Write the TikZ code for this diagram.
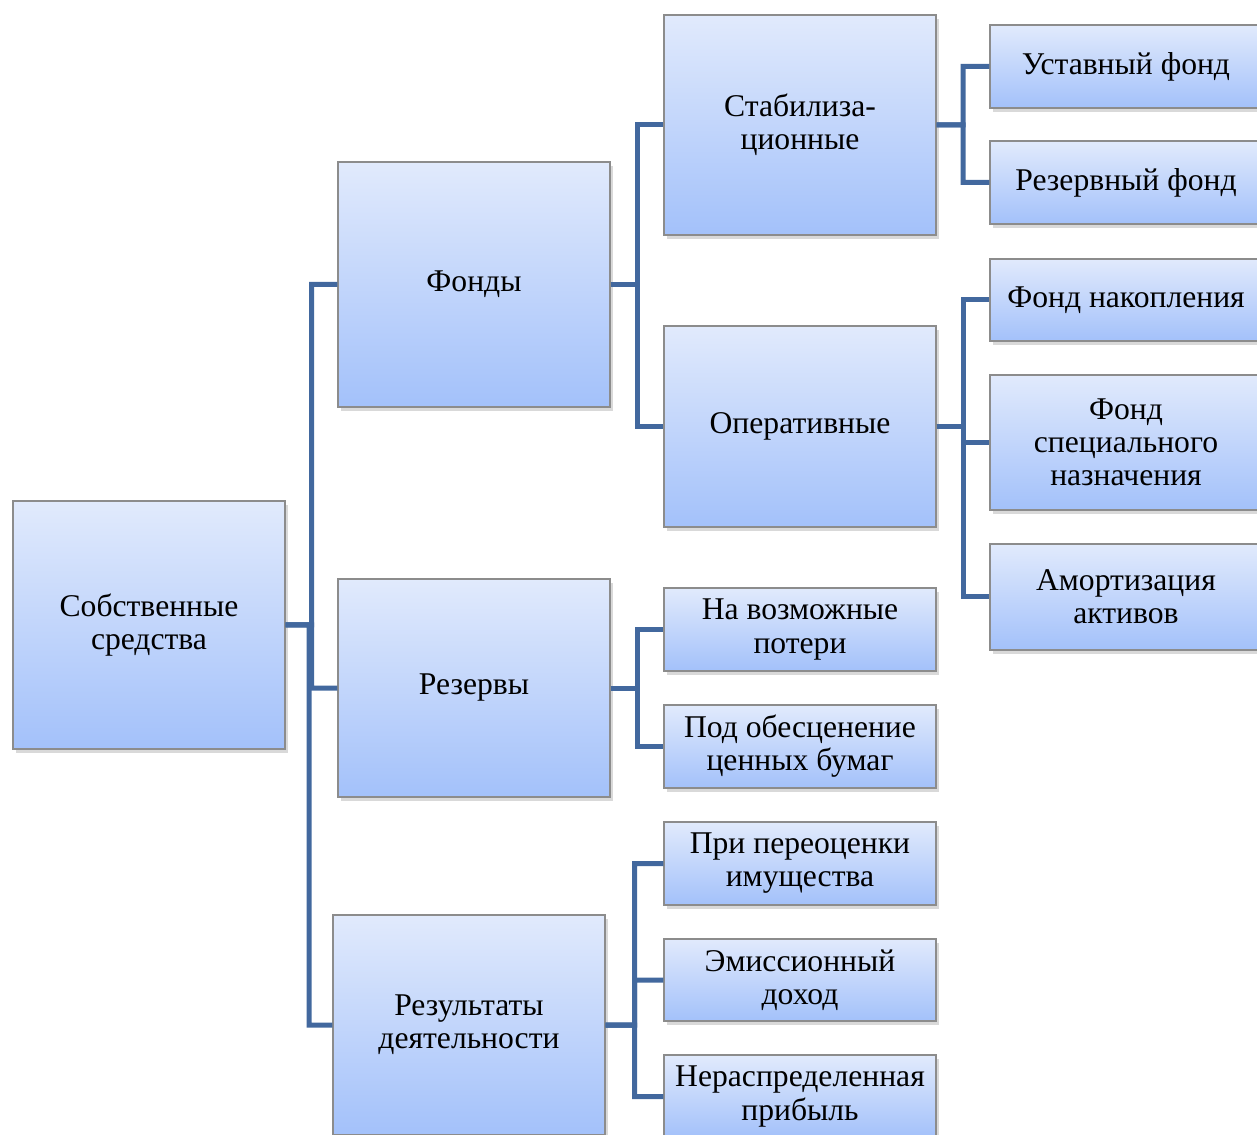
\documentclass[tikz,border=0pt]{standalone}
\usepackage{fontspec}
\setmainfont{Liberation Serif}
\usepackage{tikz}
\usetikzlibrary{positioning,calc,shadows}

\definecolor{boxtop}{RGB}{225,234,252}
\definecolor{boxbot}{RGB}{163,193,250}
\definecolor{boxline}{RGB}{140,140,140}
\definecolor{linkblue}{RGB}{66,104,158}

\begin{document}
\begin{tikzpicture}[
  x=0.2mm, y=-0.2mm,
  font=\fontsize{18}{18.8}\selectfont,
  blk/.style={draw=boxline,line width=0.6pt,top color=boxtop,bottom color=boxbot,
    minimum width=54.4mm,inner sep=1mm,align=center,
    drop shadow={opacity=.3,shadow xshift=.6mm,shadow yshift=-.8mm}},
  link/.style={draw=linkblue,line width=1mm}
]
\useasboundingbox (0,0) rectangle (1257,1135);

% Root and first level
\node[blk, minimum height=49.6mm] (own) at (149,625) {Собственные\\средства};
\node[blk, minimum height=49mm] (funds) at (474,284.5) {Фонды};
\node[blk, minimum height=43.6mm] (reserves) at (474,688) {Резервы};
\node[blk, minimum height=44mm] (results) at (469,1025) {Результаты\\деятельности};

% Funds branch
\node[blk, minimum height=44mm] (stab) at (800,125) {Стабилиза-\\ционные};
\node[blk, minimum height=40.2mm] (oper) at (800,426.5) {Оперативные};
\node[blk, minimum height=16.6mm] (charter) at (1126,66.5) {Уставный фонд};
\node[blk, minimum height=16.6mm] (resfund) at (1126,182.5) {Резервный фонд};
\node[blk, minimum height=16.4mm] (accum) at (1126,300) {Фонд накопления};
\node[blk, minimum height=27mm] (special) at (1126,442.5) {Фонд\\специального\\назначения};
\node[blk, minimum height=21.2mm] (amort) at (1126,597) {Амортизация\\активов};

% Reserves branch
\node[blk, minimum height=16.6mm] (losses) at (800,629.5) {На возможные\\потери};
\node[blk, minimum height=16.6mm] (securities) at (800,746.5) {Под обесценение\\ценных бумаг};

% Results branch
\node[blk, minimum height=16.6mm] (reval) at (800,863.5) {При переоценки\\имущества};
\node[blk, minimum height=16.4mm] (emission) at (800,980) {Эмиссионный\\доход};
\node[blk, minimum height=16.6mm] (retained) at (800,1096.5) {Нераспределенная\\прибыль};

% Connections
\foreach \p/\c in {own/funds,own/reserves,own/results,
    funds/stab,funds/oper,stab/charter,stab/resfund,
    oper/accum,oper/special,oper/amort,
    reserves/losses,reserves/securities,
    results/reval,results/emission,results/retained}
  \draw[link] (\p.east) -- ($(\p.east)!.5!(\p.east -| \c.west)$) |- (\c.west);
\end{tikzpicture}
\end{document}
